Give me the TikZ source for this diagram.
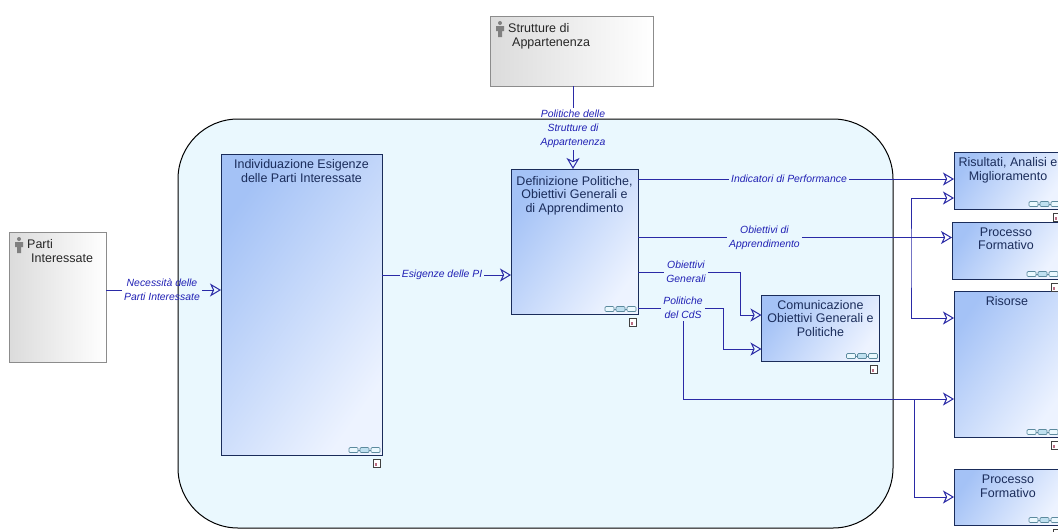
\documentclass[tikz,border=0pt]{standalone}
\usepackage{fontspec}
\setmainfont{Liberation Sans}
\usepackage{xcolor}
\definecolor{cLink}{HTML}{2A2AA6}
\definecolor{cLabel}{HTML}{2020B4}
\definecolor{cNavy}{HTML}{1A2C5A}
\definecolor{cPool}{HTML}{EAF8FE}
\definecolor{cProcA}{HTML}{A4C2F6}
\definecolor{cProcB}{HTML}{EDF3FF}
\definecolor{cMark}{HTML}{BFE0F0}
\definecolor{cChain}{HTML}{5C8A9E}
\definecolor{cDoc}{HTML}{A03050}
\usetikzlibrary{positioning,arrows.meta}
\tikzset{
  node-pool/.style={draw=black,line width=1pt,fill=cPool,rounded corners=60pt,
    minimum width=715pt,minimum height=409pt,inner sep=0pt,outer sep=0pt},
  node-proc/.style={draw=cNavy,line width=1pt,shading=axis,left color=cProcA,
    right color=cProcB,shading angle=55,inner sep=0pt,outer sep=0pt},
  node-actor/.style={draw=black!45,line width=1pt,shading=axis,left color=black!14,
    right color=white,inner sep=0pt,outer sep=0pt},
  text-proc/.style={inner sep=0pt,align=center,text=cNavy,
    font=\fontsize{12.5}{13.4}\selectfont},
  text-actor/.style={inner sep=0pt,align=left,text=black!85,
    font=\fontsize{12.5}{14}\selectfont},
  link-label/.style={inner sep=2pt,align=center,text=cLabel,
    font=\fontsize{10.4}{14}\selectfont\itshape},
  link/.style={line width=1pt,draw=cLink},
  arrow-link/.style={link,-{Stealth[open,length=11pt,width=13pt,inset=3pt]}},
  arrow-both/.style={link,{Stealth[open,length=11pt,width=13pt,inset=3pt]}-{Stealth[open,length=11pt,width=13pt,inset=3pt]}},
  chain-link/.style={draw=cChain,line width=.7pt,fill=cPool,rounded corners=1pt},
  man-icon/.style={fill=black!50,draw=none},
}
\newcommand{\boxmarks}[1]{%
  \draw[cChain,line width=.7pt] ([xshift=-32pt,yshift=5pt]#1.south east) -- ([xshift=-2pt,yshift=5pt]#1.south east);
  \draw[chain-link] ([xshift=-33pt,yshift=2.5pt]#1.south east) rectangle +(9pt,5pt);
  \draw[chain-link,fill=cMark] ([xshift=-22pt,yshift=2.5pt]#1.south east) rectangle +(9pt,5pt);
  \draw[chain-link] ([xshift=-11pt,yshift=2.5pt]#1.south east) rectangle +(9pt,5pt);
  \draw[black!75,fill=white,line width=1pt] ([xshift=-9pt,yshift=-12pt]#1.south east) rectangle +(7pt,8pt);
  \fill[cDoc!70] ([xshift=-7.5pt,yshift=-10.5pt]#1.south east) rectangle +(2pt,2.5pt);
}
\newcommand{\manmark}[1]{%
  \fill[man-icon] ([xshift=10pt,yshift=-7pt]#1.north west) circle (2pt);
  \fill[man-icon] ([xshift=6pt,yshift=-10pt]#1.north west) -- ++(8pt,0pt) -- ++(0pt,-5pt)
    -- ++(-2pt,0pt) -- ++(0pt,-6pt) -- ++(-4pt,0pt) -- ++(0pt,6pt) -- ++(-2pt,0pt) -- cycle;
}
\begin{document}
\begin{tikzpicture}[x=1pt,y=-1pt]
  \useasboundingbox (0,0) rectangle (1058,531);
  \node[node-pool] (pool) at (535.5,323.5) {};

  % actors
  \node[node-actor,minimum width=97pt,minimum height=130pt] (parti) at (57.5,297) {};
  \node[node-actor,minimum width=163pt,minimum height=70pt] (strut) at (571.5,51) {};
  \node[text-actor,below right=7pt and 18pt of parti.north west] (partiT) {Parti\\\hspace*{4pt}Interessate};
  \node[text-actor,below right=7pt and 18pt of strut.north west] (strutT) {Strutture di\\\hspace*{4pt}Appartenenza};
  \manmark{parti}
  \manmark{strut}

  % processes
  \node[node-proc,minimum width=161pt,minimum height=301pt] (indiv) at (301.5,304.5) {};
  \node[node-proc,minimum width=127pt,minimum height=145pt] (defin) at (574.5,241.5) {};
  \node[node-proc,minimum width=118pt,minimum height=66pt] (comun) at (820.5,328) {};
  \node[node-proc,minimum width=108pt,minimum height=57pt] (risul) at (1008,180.5) {};
  \node[node-proc,minimum width=108pt,minimum height=57pt] (forma) at (1006,250.5) {};
  \node[node-proc,minimum width=106pt,minimum height=146pt] (risor) at (1007,364) {};
  \node[node-proc,minimum width=108pt,minimum height=56pt] (formb) at (1008,497) {};
  \node[text-proc,below=5.5pt of indiv.north] (indivT) {Individuazione Esigenze\\delle Parti Interessate};
  \node[text-proc,below=7pt of defin.north] (definT) {Definizione Politiche,\\Obiettivi Generali e\\di Apprendimento};
  \node[text-proc,below=5pt of comun.north] (comunT) {Comunicazione\\Obiettivi Generali e\\Politiche};
  \node[text-proc,below=5.5pt of risul.north] (risulT) {Risultati, Analisi e\\Miglioramento};
  \node[text-proc,below=5.5pt of forma.north] (formaT) {Processo\\Formativo};
  \node[text-proc,below=5pt of risor.north] (risorT) {Risorse};
  \node[text-proc,below=6pt of formb.north] (formbT) {Processo\\Formativo};
  \foreach \n in {indiv,defin,comun,risul,forma,risor,formb} {\boxmarks{\n}}

  % link labels
  \node[link-label] (lNec) at (162,290) {Necessità delle\\Parti Interessate};
  \node[link-label] (lStr) at (573,129) {Politiche delle\\Strutture di\\Appartenenza};
  \node[link-label] (lEsi) at (442,275) {Esigenze delle PI};
  \node[link-label] (lInd) at (789,179) {Indicatori di Performance};
  \node[link-label] (lApp) at (764.5,237.5) {Obiettivi di\\Apprendimento};
  \node[link-label] (lGen) at (686,272) {Obiettivi\\Generali};
  \node[link-label] (lCds) at (683,308) {Politiche\\del CdS};
  \coordinate (bGen) at (740,315);
  \coordinate (bCds) at (723,349);
  \coordinate (bBack) at (911,258);
  \coordinate (bFor) at (914,399);
  \coordinate (yRis) at (0,198);
  \coordinate (yRor) at (0,318);
  \coordinate (yFor) at (0,497);

  % links
  \draw[link]       (parti.east |- lNec) -- (lNec);
  \draw[arrow-link] (lNec) -- (indiv.west |- lNec);
  \draw[link]       (strut.south -| lStr) -- (lStr);
  \draw[arrow-link] (lStr) -- (defin.north -| lStr);
  \draw[link]       (indiv.east |- lEsi) -- (lEsi);
  \draw[arrow-link] (lEsi) -- (defin.west |- lEsi);
  \draw[link]       (defin.east |- lInd) -- (lInd);
  \draw[arrow-link] (lInd) -- (risul.west |- lInd);
  \draw[link]       (defin.east |- lApp) -- (lApp);
  \draw[arrow-link] (lApp) -- (forma.west |- lApp);
  \draw[link]       (defin.east |- lGen) -- (lGen);
  \draw[arrow-link] (lGen) -| (bGen) -- (comun.west |- bGen);
  \draw[link]       (defin.east |- lCds) -- (lCds);
  \draw[arrow-link] (lCds) -| (bCds) -- (comun.west |- bCds);
  \draw[arrow-link] (lCds) |- (risor.west |- bFor);
  \draw[arrow-link] (bFor) |- (formb.west |- yFor);
  \draw[arrow-both] (risul.west |- yRis) -| (bBack) |- (risor.west |- yRor);
\end{tikzpicture}
\end{document}
